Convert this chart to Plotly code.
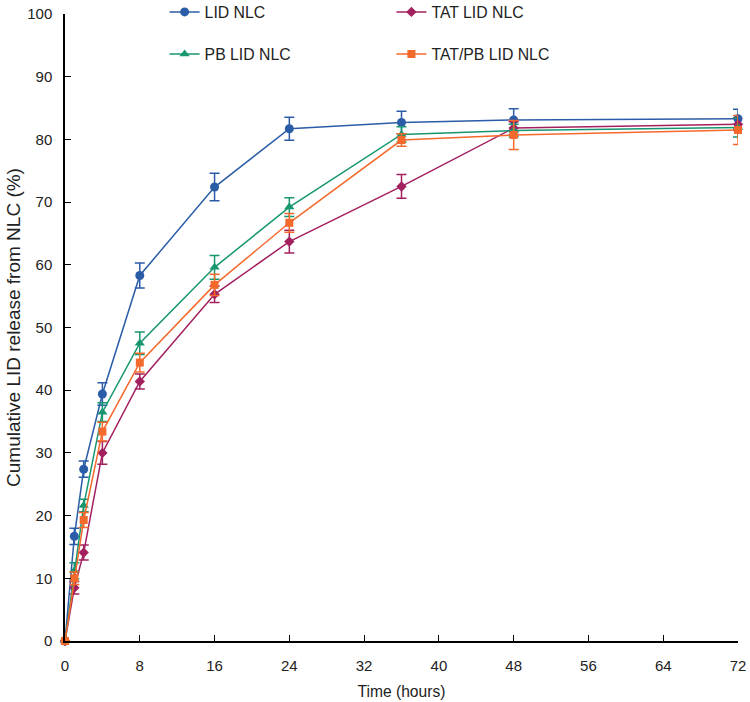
import plotly.graph_objects as go

time_h = [0, 1, 2, 4, 8, 16, 24, 36, 48, 72]

lid_nlc = [0, 16.7, 27.4, 39.4, 58.3, 72.4, 81.7, 82.7, 83.1, 83.3]
lid_nlc_err = [0, 1.3, 1.3, 1.8, 2.0, 2.2, 1.85, 1.8, 1.8, 1.5]

tat_lid_nlc = [0, 8.5, 14.1, 30.0, 41.4, 55.3, 63.7, 72.5, 81.8, 82.4]
tat_lid_nlc_err = [0, 1.0, 1.2, 1.8, 1.2, 1.3, 1.8, 1.9, 1.0, 1.0]

pb_lid_nlc = [0, 11.2, 21.6, 36.5, 47.5, 59.6, 69.2, 80.8, 81.4, 81.9]
pb_lid_nlc_err = [0, 1.3, 1.0, 1.5, 1.8, 1.9, 1.5, 1.2, 1.0, 1.5]

tatpb_lid_nlc = [0, 10.0, 19.3, 33.4, 44.4, 56.8, 66.7, 79.9, 80.7, 81.5]
tatpb_lid_nlc_err = [0, 1.0, 1.2, 1.5, 1.5, 1.7, 1.5, 1.0, 2.3, 2.3]

x_ticks = [0, 8, 16, 24, 32, 40, 48, 56, 64, 72]
y_ticks = [0, 10, 20, 30, 40, 50, 60, 70, 80, 90, 100]

series = [
    ("LID NLC", lid_nlc, lid_nlc_err, "#2b5ca8", "circle", 9, "legend"),
    ("TAT LID NLC", tat_lid_nlc, tat_lid_nlc_err, "#a3205f", "diamond", 8, "legend2"),
    ("PB LID NLC", pb_lid_nlc, pb_lid_nlc_err, "#17966f", "triangle-up", 9, "legend3"),
    ("TAT/PB LID NLC", tatpb_lid_nlc, tatpb_lid_nlc_err, "#f4692c", "square", 8, "legend4"),
]

fig = go.Figure()
for name, vals, err, col, sym, sz, lg in series:
    fig.add_trace(go.Scatter(
        x=time_h, y=vals, name=name, mode="lines+markers",
        line=dict(color=col, width=1.5),
        marker=dict(color=col, symbol=sym, size=sz),
        error_y=dict(type="data", array=err, visible=True, color=col, thickness=1.5, width=5),
        cliponaxis=False, legend=lg, showlegend=True,
    ))

fam = "Liberation Sans, Arial, sans-serif"
tick_font = dict(family=fam, size=15, color="#222")
legend_font = dict(family=fam, size=15.8, color="#222")
xtitle_font = dict(family=fam, size=15.6, color="#222")
ytitle_font = dict(family=fam, size=19, color="#222")

legend_common = dict(font=legend_font, bgcolor="rgba(0,0,0,0)", xanchor="left", yanchor="middle",
                     itemwidth=30, borderwidth=0, visible=True)

fig.update_layout(
    width=750, height=702,
    margin=dict(l=65, r=12, t=14, b=61, autoexpand=False),
    paper_bgcolor="white", plot_bgcolor="white",
    font=tick_font,
    showlegend=True,
    legend=dict(x=0.148, y=1.003, **legend_common),
    legend2=dict(x=0.485, y=1.003, **legend_common),
    legend3=dict(x=0.148, y=0.936, **legend_common),
    legend4=dict(x=0.485, y=0.936, **legend_common),
    xaxis=dict(
        range=[0, 72], tickvals=x_ticks, ticks="inside", ticklen=6, tickwidth=1.2,
        tickcolor="#000", showline=True, linecolor="#000", linewidth=1.5,
        showgrid=False, zeroline=False, ticklabelstandoff=10, ticklabeloverflow="allow",
        tickfont=tick_font,
        title=dict(text="Time (hours)", font=xtitle_font, standoff=13),
    ),
    yaxis=dict(
        range=[0, 100], tickvals=y_ticks, ticks="inside", ticklen=6, tickwidth=1.2,
        tickcolor="#000", showline=True, linecolor="#000", linewidth=1.5,
        showgrid=False, zeroline=False, ticklabelstandoff=8, ticklabeloverflow="allow",
        tickfont=tick_font,
        title=dict(text="Cumulative LID release from NLC (%)", font=ytitle_font, standoff=2),
    ),
)

fig.write_html("out.html", config={"displayModeBar": False},
               post_script="document.body.style.margin='0';")
